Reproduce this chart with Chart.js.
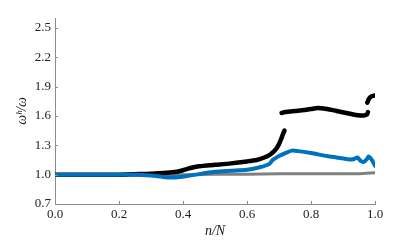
<!DOCTYPE HTML>
<html>
<head>
	<meta charset="UTF-8">
	<title>omega ratio</title>
	<script src="https://cdn.jsdelivr.net/npm/chart.js"></script>
	<style>
		body {
			margin: 0;
			padding: 0;
			background: #fff;
		}

		#wrap {
			width: 415px;
			height: 243px;
		}
	</style>
</head>
<body>
	<div id="wrap"><canvas id="ratioChart"></canvas></div>
	<script>
		// data
		var xTicks = [0, 0.2, 0.4, 0.6, 0.8, 1.0];
		var yTicks = [0.7, 1.0, 1.3, 1.6, 1.9, 2.2, 2.5];

		var blueX = [0, 0.1, 0.2, 0.25, 0.3, 0.33, 0.36, 0.39, 0.42, 0.46, 0.5, 0.55, 0.6, 0.64, 0.67, 0.68, 0.69, 0.7, 0.72, 0.74, 0.76, 0.8, 0.85, 0.88, 0.92, 0.935, 0.945, 0.955, 0.965, 0.975, 0.98, 0.99, 1.0];
		var blueY = [1.0, 1.0, 1.0, 1.0, 0.99, 0.98, 0.97, 0.975, 0.99, 1.01, 1.03, 1.04, 1.05, 1.075, 1.11, 1.15, 1.17, 1.19, 1.22, 1.245, 1.24, 1.22, 1.19, 1.175, 1.155, 1.16, 1.175, 1.14, 1.13, 1.16, 1.185, 1.15, 1.09];

		var blackLowX = [0, 0.1, 0.2, 0.25, 0.3, 0.35, 0.38, 0.4, 0.42, 0.45, 0.5, 0.55, 0.6, 0.63, 0.65, 0.67, 0.685, 0.695, 0.705, 0.712, 0.717];
		var blackLowY = [1.0, 1.0, 1.0, 1.005, 1.01, 1.02, 1.03, 1.045, 1.065, 1.085, 1.1, 1.115, 1.135, 1.15, 1.17, 1.2, 1.24, 1.28, 1.35, 1.41, 1.45];

		var blackMidX = [0.708, 0.72, 0.75, 0.78, 0.8, 0.82, 0.85, 0.88, 0.91, 0.94, 0.955, 0.965, 0.975, 0.978];
		var blackMidY = [1.63, 1.64, 1.65, 1.66, 1.67, 1.68, 1.67, 1.65, 1.63, 1.61, 1.605, 1.605, 1.615, 1.64];

		var blackTopX = [0.976, 0.982, 0.99, 1.0];
		var blackTopY = [1.735, 1.78, 1.80, 1.81];

		var greyX = [0, 0.2, 0.3, 0.4, 0.5, 0.6, 0.7, 0.8, 0.9, 0.95, 1.0];
		var greyY = [1.0, 1.0, 1.0, 1.0, 1.005, 1.005, 1.01, 1.01, 1.01, 1.01, 1.02];

		function pts(xs, ys) {
			return xs.map(function (x, i) { return { x: x, y: ys[i] }; });
		}

		function line(data, color, width) {
			return {
				data: data,
				borderColor: color,
				borderWidth: width,
				showLine: true,
				pointRadius: 0,
				tension: 0.25,
				borderCapStyle: 'round',
				borderJoinStyle: 'round',
				fill: false
			};
		}

		// small ticks pointing into the plot, like the original
		var innerTicks = {
			id: 'innerTicks',
			afterDraw: function (chart) {
				var ctx = chart.ctx;
				var a = chart.chartArea;
				var xs = chart.scales.x, ys = chart.scales.y;
				ctx.save();
				ctx.strokeStyle = '#8c8c8c';
				ctx.lineWidth = 1;
				ctx.beginPath();
				xTicks.forEach(function (v) {
					var px = Math.round(xs.getPixelForValue(v)) + 0.5;
					ctx.moveTo(px, a.bottom);
					ctx.lineTo(px, a.bottom - 3);
				});
				yTicks.forEach(function (v) {
					var py = Math.round(ys.getPixelForValue(v)) + 0.5;
					ctx.moveTo(a.left, py);
					ctx.lineTo(a.left + 3, py);
				});
				ctx.stroke();
				ctx.restore();
			}
		};

		var tickFont = { family: 'Liberation Serif', size: 13 };
		var titleFont = { family: 'Liberation Serif', size: 14, style: 'italic' };

		new Chart(document.getElementById('ratioChart').getContext('2d'), {
			type: 'scatter',
			data: {
				datasets: [
					line(pts(blueX, blueY), '#0072BD', 4),
					line(pts(blackLowX, blackLowY), '#000000', 4.5),
					line(pts(blackMidX, blackMidY), '#000000', 4.5),
					line(pts(blackTopX, blackTopY), '#000000', 4.5),
					line(pts(greyX, greyY), '#808080', 3)
				]
			},
			options: {
				responsive: true,
				maintainAspectRatio: false,
				animation: false,
				layout: { padding: { left: 0, top: 18, right: 40, bottom: 0 } },
				plugins: {
					legend: { display: false },
					tooltip: { enabled: false }
				},
				scales: {
					x: {
						type: 'linear',
						min: 0,
						max: 1,
						grid: { display: false, drawTicks: false },
						border: { display: true, color: '#8c8c8c', width: 1 },
						afterBuildTicks: function (scale) {
							scale.ticks = xTicks.map(function (v) { return { value: v }; });
						},
						afterFit: function (scale) { scale.height = 39; },
						ticks: {
							padding: 3,
							color: '#222',
							font: tickFont,
							maxRotation: 0,
							callback: function (v) { return Number(v).toFixed(1); }
						},
						title: {
							display: true,
							text: 'n/N',
							color: '#222',
							font: titleFont,
							padding: { top: 0, bottom: 3 }
						}
					},
					y: {
						type: 'linear',
						min: 0.7,
						max: 2.6,
						grid: { display: false, drawTicks: false },
						border: { display: true, color: '#8c8c8c', width: 1 },
						afterBuildTicks: function (scale) {
							scale.ticks = yTicks.map(function (v) { return { value: v }; });
						},
						afterFit: function (scale) { scale.width = 55; },
						ticks: {
							padding: 4,
							color: '#222',
							font: tickFont,
							callback: function (v) { return Number(v).toFixed(1); }
						},
						title: {
							display: true,
							text: 'ωʰ/ω',
							color: '#222',
							font: titleFont,
							padding: { top: 14, bottom: 0 }
						}
					}
				}
			},
			plugins: [innerTicks]
		});
	</script>
</body>
</html>
